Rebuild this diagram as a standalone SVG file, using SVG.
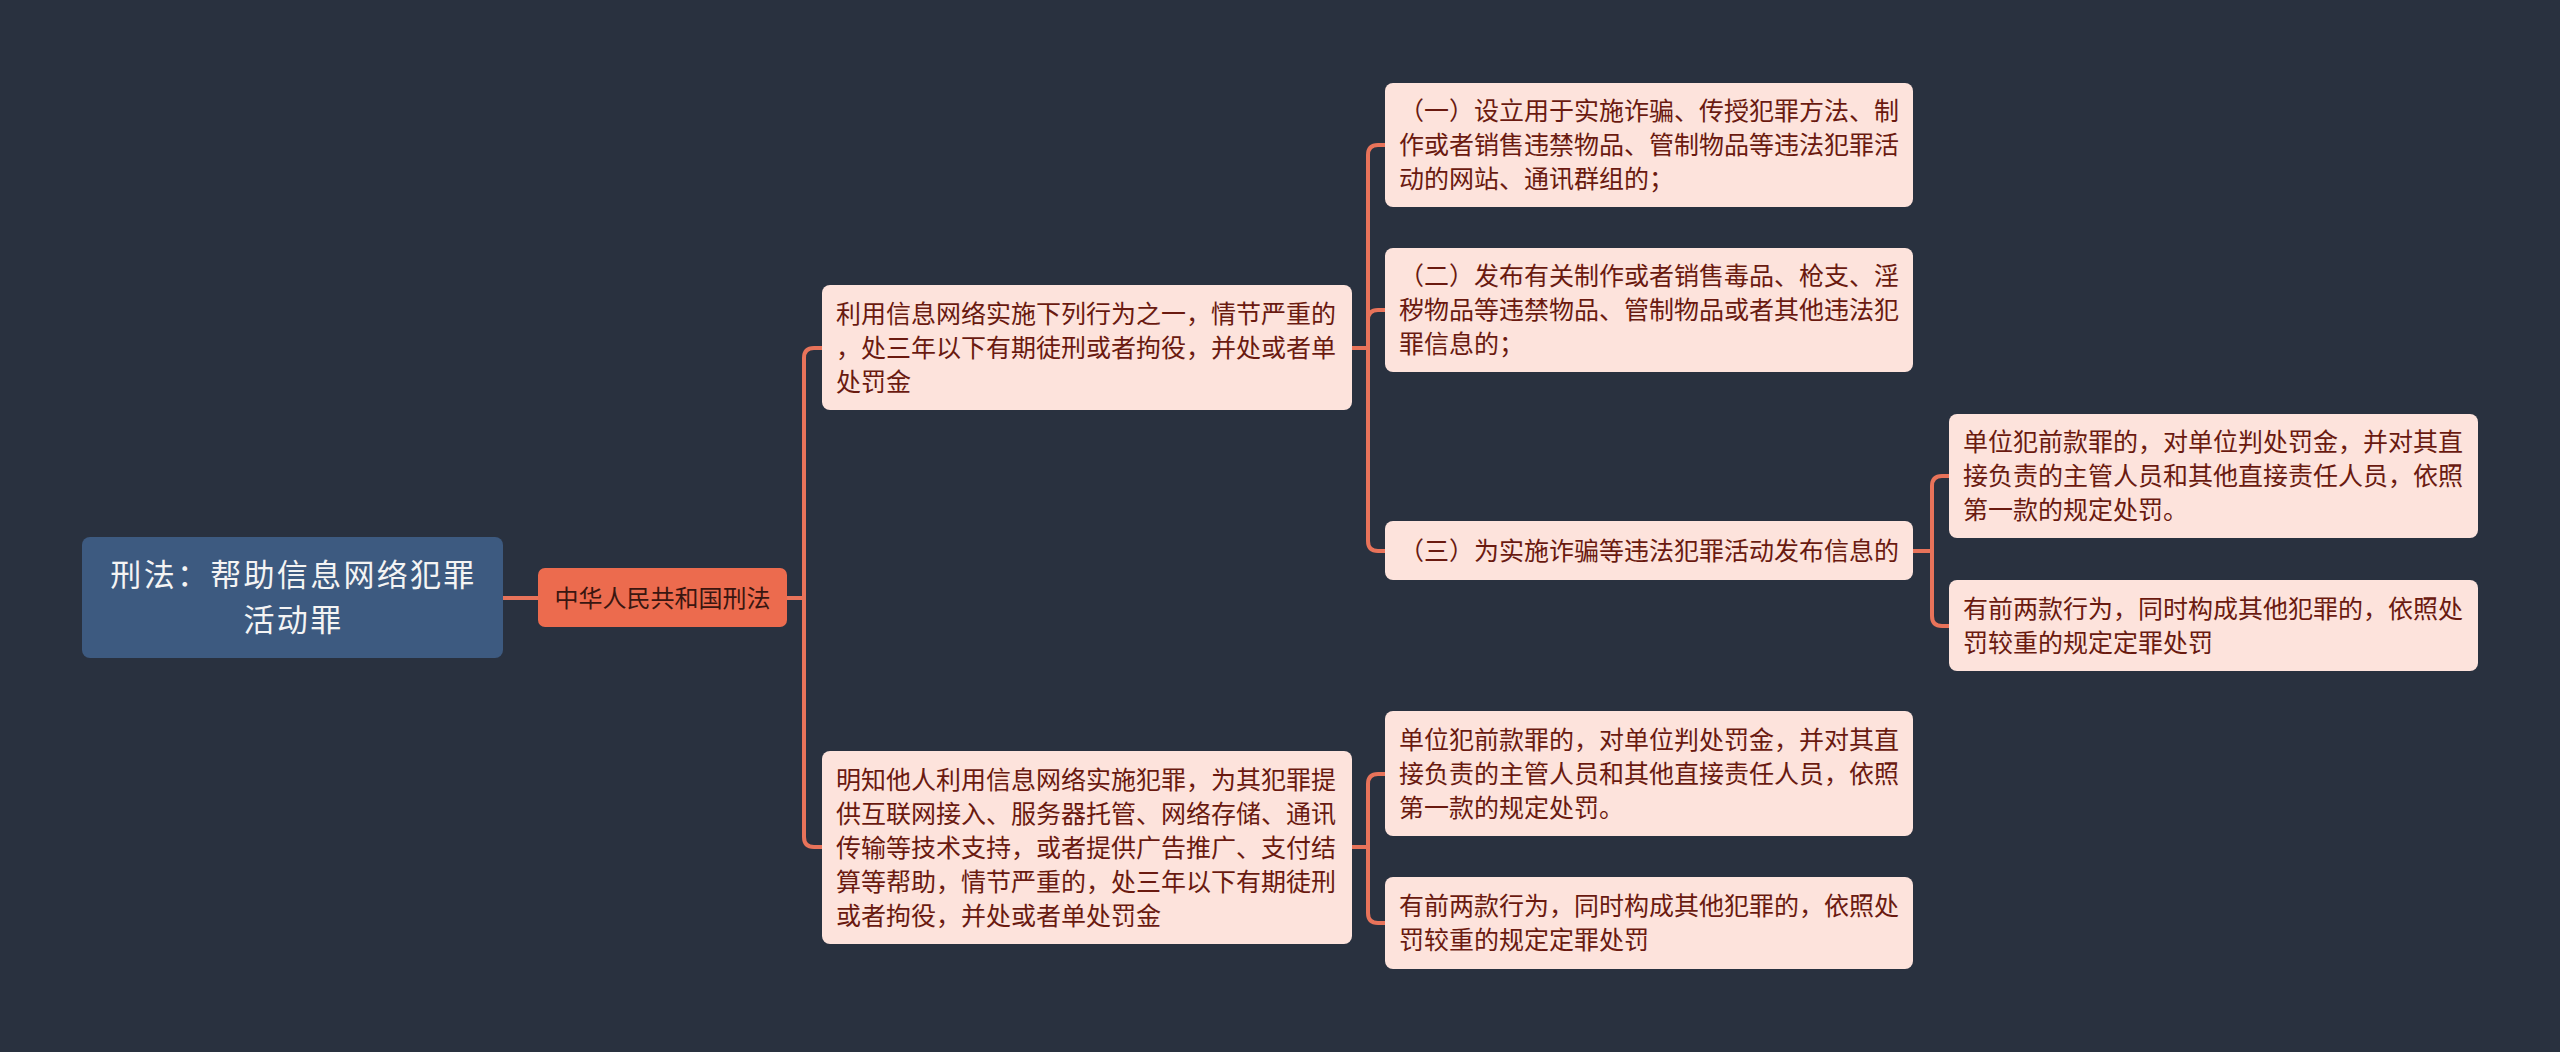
<svg xmlns="http://www.w3.org/2000/svg" width="2560" height="1052" viewBox="0 0 2560 1052">
<style>
.bg{fill:#29313f}
.conn path{fill:none;stroke:#e8735a;stroke-width:4;stroke-linecap:round}
.root rect{fill:#3d5a80}
.root text{fill:#f4f4f4;font-size:31px;letter-spacing:2.3px;text-anchor:middle}
.main rect{fill:#ec6b4e}
.main text{fill:#3a1610;font-size:24px;text-anchor:middle}
.leaf rect{fill:#fde3dc}
.leaf text{fill:#6a1a10;font-size:25px}
text{font-family:"Noto Sans CJK SC","Noto Sans CJK TC",sans-serif}
</style>
<rect class="bg" x="0" y="0" width="2560" height="1052"/>
<g class="conn" id="connectors">
<path d="M503,598 H538"/>
<path d="M787,598 H804 V358 Q804,348 814,348 H822"/>
<path d="M787,598 H804 V837 Q804,847 814,847 H822"/>
<path d="M1352,348 H1368 V155 Q1368,145 1378,145 H1385"/>
<path d="M1352,348 H1368 V320 Q1368,310 1378,310 H1385"/>
<path d="M1352,348 H1368 V541 Q1368,551 1378,551 H1385"/>
<path d="M1913,551 H1932 V486 Q1932,476 1942,476 H1949"/>
<path d="M1913,551 H1932 V616 Q1932,626 1942,626 H1949"/>
<path d="M1352,847 H1368 V784 Q1368,774 1378,774 H1385"/>
<path d="M1352,847 H1368 V913 Q1368,923 1378,923 H1385"/>
</g>
<g class="root" id="root">
<rect x="82" y="537" width="421" height="121" rx="8"/>
<text x="293.5" y="586">刑法：帮助信息网络犯罪</text>
<text x="293.5" y="631">活动罪</text>
</g>
<g class="main" id="law">
<rect x="538" y="568" width="249" height="59" rx="7"/>
<text x="662.5" y="607">中华人民共和国刑法</text>
</g>
<g class="leaf" id="l1a">
<rect x="822" y="285" width="530" height="125" rx="8"/>
<text x="836" y="323">利用信息网络实施下列行为之一，情节严重的</text>
<text x="836" y="357">，处三年以下有期徒刑或者拘役，并处或者单</text>
<text x="836" y="391">处罚金</text>
</g>
<g class="leaf" id="l1b">
<rect x="822" y="751" width="530" height="193" rx="8"/>
<text x="836" y="789">明知他人利用信息网络实施犯罪，为其犯罪提</text>
<text x="836" y="823">供互联网接入、服务器托管、网络存储、通讯</text>
<text x="836" y="857">传输等技术支持，或者提供广告推广、支付结</text>
<text x="836" y="891">算等帮助，情节严重的，处三年以下有期徒刑</text>
<text x="836" y="925">或者拘役，并处或者单处罚金</text>
</g>
<g class="leaf" id="l2a">
<rect x="1385" y="83" width="528" height="124" rx="8"/>
<text x="1399" y="120">（一）设立用于实施诈骗、传授犯罪方法、制</text>
<text x="1399" y="154">作或者销售违禁物品、管制物品等违法犯罪活</text>
<text x="1399" y="188">动的网站、通讯群组的；</text>
</g>
<g class="leaf" id="l2b">
<rect x="1385" y="248" width="528" height="124" rx="8"/>
<text x="1399" y="285">（二）发布有关制作或者销售毒品、枪支、淫</text>
<text x="1399" y="319">秽物品等违禁物品、管制物品或者其他违法犯</text>
<text x="1399" y="353">罪信息的；</text>
</g>
<g class="leaf" id="l2c">
<rect x="1385" y="521" width="528" height="59" rx="8"/>
<text x="1399" y="560">（三）为实施诈骗等违法犯罪活动发布信息的</text>
</g>
<g class="leaf" id="l3a">
<rect x="1949" y="414" width="529" height="124" rx="8"/>
<text x="1963" y="451">单位犯前款罪的，对单位判处罚金，并对其直</text>
<text x="1963" y="485">接负责的主管人员和其他直接责任人员，依照</text>
<text x="1963" y="519">第一款的规定处罚。</text>
</g>
<g class="leaf" id="l3b">
<rect x="1949" y="580" width="529" height="91" rx="8"/>
<text x="1963" y="618">有前两款行为，同时构成其他犯罪的，依照处</text>
<text x="1963" y="652">罚较重的规定定罪处罚</text>
</g>
<g class="leaf" id="l2d">
<rect x="1385" y="711" width="528" height="125" rx="8"/>
<text x="1399" y="749">单位犯前款罪的，对单位判处罚金，并对其直</text>
<text x="1399" y="783">接负责的主管人员和其他直接责任人员，依照</text>
<text x="1399" y="817">第一款的规定处罚。</text>
</g>
<g class="leaf" id="l2e">
<rect x="1385" y="877" width="528" height="92" rx="8"/>
<text x="1399" y="915">有前两款行为，同时构成其他犯罪的，依照处</text>
<text x="1399" y="949">罚较重的规定定罪处罚</text>
</g>
</svg>
